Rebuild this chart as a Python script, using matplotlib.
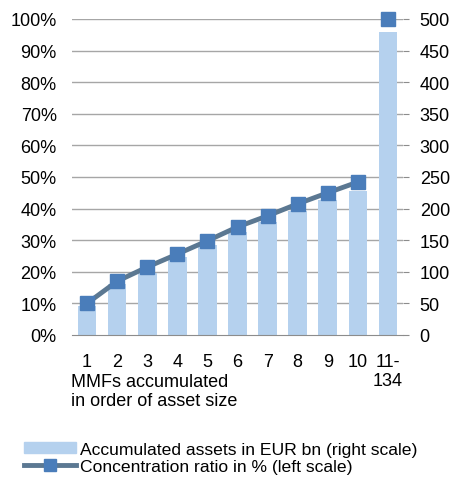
import matplotlib.pyplot as plt
from matplotlib.patches import Patch
from matplotlib.lines import Line2D

plt.rcParams['font.family'] = ['Liberation Sans', 'DejaVu Sans']

# data
categories = ['1', '2', '3', '4', '5', '6', '7', '8', '9', '10', '11-\n134']
assets_bn = [46, 81, 98, 123, 142, 163, 179, 196, 213, 228, 479]      # right scale
concentration = [10, 17, 21.5, 25.6, 29.8, 34.2, 37.7, 41.5, 45, 48.4, 100]  # left scale, %
left_ticks = list(range(0, 101, 10))
right_ticks = list(range(0, 501, 50))

bar_col = '#B5D1EE'
line_col = '#5B7892'
mark_col = '#4A7DBA'
grid_col = '#A6A6A6'
fs = 13

fig = plt.figure(figsize=(4.5, 4.81), dpi=100)
ax = fig.add_axes([0.16, 0.3015, 0.7356, 0.657])
ax2 = ax.twinx()

x = list(range(len(categories)))
ax2.bar(x, assets_bn, width=0.62, color=bar_col, zorder=2)
# line joins the single funds only, the 11-134 group is a lone marker
ax.plot(x[:10], concentration[:10], color=line_col, lw=3.5, marker='s', ms=10,
        mfc=mark_col, mec=mark_col, zorder=5)
ax.plot(x[10:], concentration[10:], ls='none', marker='s', ms=10,
        mfc=mark_col, mec=mark_col, zorder=5, clip_on=False)

ax.set_zorder(ax2.get_zorder() + 1)
ax.patch.set_visible(False)

ax.set_xlim(-0.5, len(categories) - 0.5)
ax.set_ylim(0, 100)
ax2.set_ylim(0, 500)
ax.set_yticks(left_ticks)
ax.set_yticklabels([f'{t}%' for t in left_ticks])
ax2.set_yticks(right_ticks)
ax.set_xticks(x)
ax.set_xticklabels(categories, va='top', linespacing=1.15)

for t in left_ticks[1:]:
    ax2.axhline(t * 5, color=grid_col, lw=1, zorder=1)

for a in (ax, ax2):
    for s in a.spines.values():
        s.set_visible(False)
ax.spines['bottom'].set_visible(True)
ax.spines['bottom'].set_color('#8C8C8C')

ax.tick_params(axis='y', length=0, pad=11, labelsize=fs)
ax.tick_params(axis='x', length=0, pad=13, labelsize=fs)
ax2.tick_params(axis='y', length=4, direction='out', color='#8C8C8C', pad=8, labelsize=fs)

fig.text(0.158, 0.222, 'MMFs accumulated\nin order of asset size', fontsize=fs,
         ha='left', va='top', linespacing=1.15)

handles = [Patch(color=bar_col),
           Line2D([], [], color=line_col, lw=3.5, marker='s', ms=9, mfc=mark_col, mec=mark_col)]
labels = ['Accumulated assets in EUR bn (right scale)', 'Concentration ratio in % (left scale)']
fig.legend(handles, labels, loc='lower left', bbox_to_anchor=(0.025, -0.012), frameon=False,
           fontsize=12.6, handlelength=3.0, handleheight=0.6, labelspacing=0.1,
           handletextpad=0.2, borderaxespad=0.3)

fig.savefig('out.png', dpi=100)
